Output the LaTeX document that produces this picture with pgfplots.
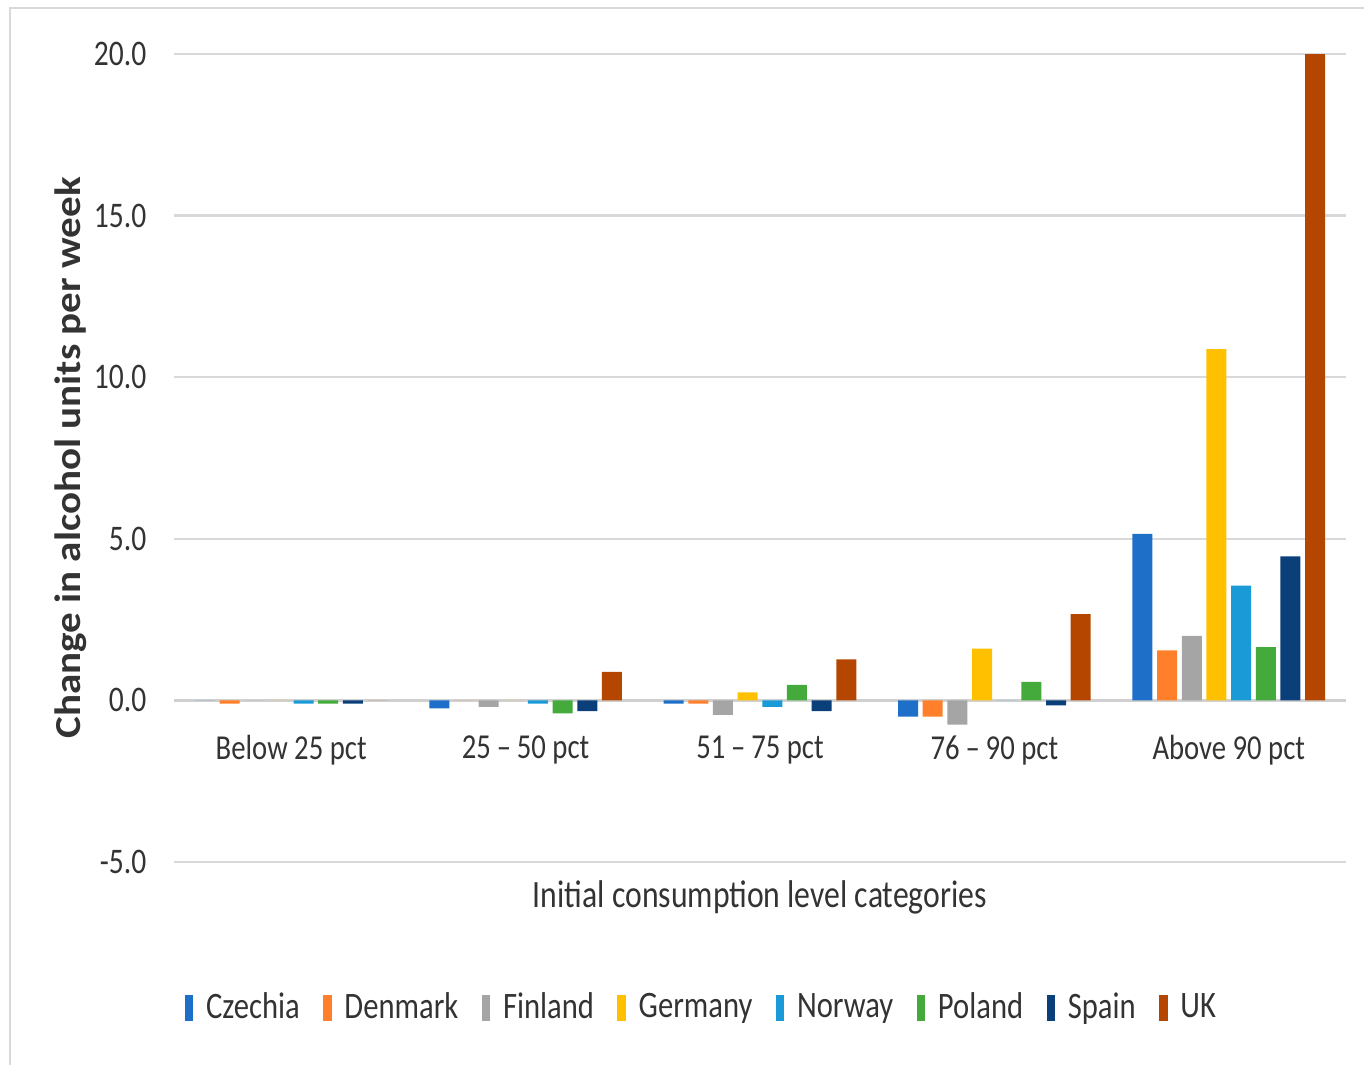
\documentclass[border=0pt]{standalone}
\usepackage{fontspec}
\setmainfont{Carlito}[FakeStretch=0.82]
\newfontfamily\ylabfont{Carlito}[FakeStretch=1.12]
\usepackage{pgfplots}
\pgfplotsset{compat=1.18}

\definecolor{cCZ}{HTML}{1E6FC8}
\definecolor{cDK}{HTML}{FF7F2A}
\definecolor{cFI}{HTML}{A5A5A5}
\definecolor{cDE}{HTML}{FFC000}
\definecolor{cNO}{HTML}{1A9AD6}
\definecolor{cPL}{HTML}{44AA3C}
\definecolor{cES}{HTML}{0A3F7A}
\definecolor{cUK}{HTML}{B44600}
\definecolor{gridcol}{HTML}{D9D9D9}
\definecolor{zerocol}{HTML}{D0D0D0}
\definecolor{bordercol}{HTML}{D9D9D9}
\definecolor{textcol}{HTML}{333333}

\begin{document}
\begin{tikzpicture}
\begin{axis}[
  at={(0pt,0pt)}, anchor=south west,
  scale only axis,
  width=351.6pt, height=242.4pt,
  xmin=-0.5, xmax=4.5,
  ymin=-5, ymax=20,
  axis x line=middle, axis y line=left,
  hide obscured x ticks=false, hide obscured y ticks=false,
  x axis line style={-, draw=zerocol, line width=1pt},
  y axis line style={draw=none},
  xtick={0,1,2,3,4},
  xticklabels={Below 25 pct, 25\,--\,50 pct, 51\,--\,75 pct, 76\,--\,90 pct, Above 90 pct},
  ytick={-5,0,5,10,15,20},
  major tick length=0pt,
  ymajorgrids,
  grid style={draw=gridcol, line width=0.7pt},
  ybar=1.4pt, bar width=6pt,
  every axis plot/.append style={draw=none},
  tick label style={font=\fontsize{10.8}{13}\selectfont, text=textcol},
  xticklabel style={anchor=center, yshift=-15pt, font=\fontsize{10.5}{13}\selectfont},
  yticklabel style={anchor=east, inner sep=0pt, xshift=-8.1pt},
  yticklabel={\pgfmathprintnumber[fixed, fixed zerofill, precision=1, assume math mode=true]{\tick}},
  xlabel={Initial consumption level categories},
  xlabel style={at={(axis description cs:0.5,-0.0433)}, anchor=center,
    font=\fontsize{11.6}{13}\selectfont, text=textcol},
  ylabel={Change in alcohol units per week},
  ylabel style={at={(axis description cs:-0.0879,0.5)}, anchor=center,
    font=\ylabfont\bfseries\fontsize{11}{13}\selectfont, text=textcol},
  legend columns=8,
  legend style={at={(axis description cs:0.452,-0.181)}, anchor=center,
    draw=none, fill=none, font=\fontsize{11.2}{13}\selectfont, text=textcol,
    /tikz/every even column/.append style={column sep=5pt},
    /tikz/every odd column/.append style={column sep=1.8pt}},
  legend image code/.code={\fill[#1] (0pt,-3.9pt) rectangle (2.6pt,3.9pt);},
]
% Czechia
\addplot[fill=cCZ] coordinates {(0,0) (1,-0.25) (2,-0.1) (3,-0.5) (4,5.15)};
% Denmark
\addplot[fill=cDK] coordinates {(0,-0.1) (1,0) (2,-0.1) (3,-0.5) (4,1.55)};
% Finland
\addplot[fill=cFI] coordinates {(0,0) (1,-0.2) (2,-0.45) (3,-0.75) (4,2.0)};
% Germany
\addplot[fill=cDE] coordinates {(0,0) (1,0) (2,0.25) (3,1.6) (4,10.87)};
% Norway
\addplot[fill=cNO] coordinates {(0,-0.1) (1,-0.1) (2,-0.2) (3,0) (4,3.55)};
% Poland
\addplot[fill=cPL] coordinates {(0,-0.1) (1,-0.4) (2,0.48) (3,0.57) (4,1.65)};
% Spain
\addplot[fill=cES] coordinates {(0,-0.1) (1,-0.33) (2,-0.33) (3,-0.15) (4,4.46)};
% UK
\addplot[fill=cUK] coordinates {(0,0) (1,0.88) (2,1.27) (3,2.67) (4,20.0)};
\legend{Czechia, Denmark, Finland, Germany, Norway, Poland, Spain, UK}
\end{axis}
% chart area frame
\draw[bordercol, line width=0.7pt] (-49.2pt,-80pt) rectangle (400pt,256.2pt);
\pgfresetboundingbox
\useasboundingbox (-52.2pt,-60.6pt) rectangle (357pt,258.6pt);
\end{tikzpicture}
\end{document}
